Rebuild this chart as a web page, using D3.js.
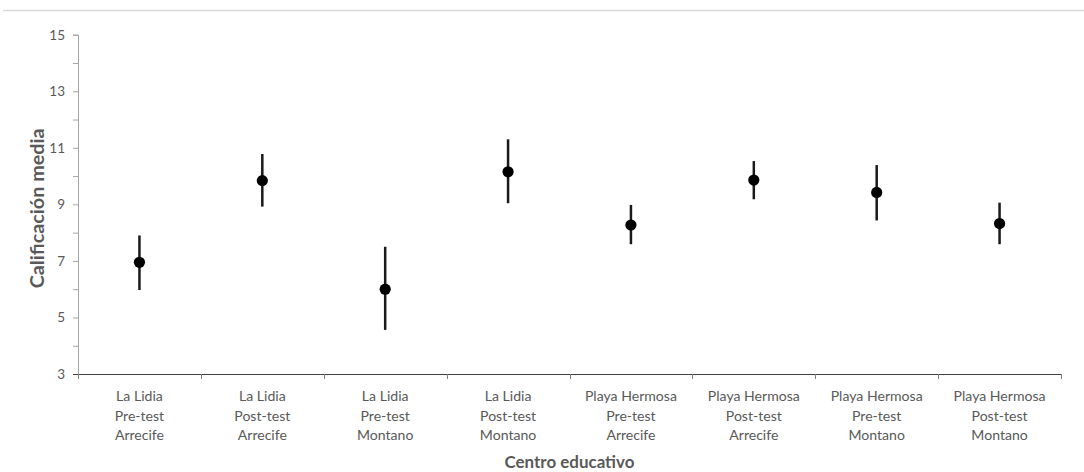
<!DOCTYPE html>
<html>
<head>
<meta charset="utf-8">
<script src="https://cdn.jsdelivr.net/npm/d3@7"></script>
<style>
  html, body { margin: 0; padding: 0; background: #fff; }
  svg { display: block; }
  text { font-family: Lato, "Open Sans", "DejaVu Sans", sans-serif; }
</style>
</head>
<body>
<svg id="chart" width="1084" height="472"></svg>
<script>
// Mean score per school / test / group, with error-bar limits
const schools = ["La Lidia", "La Lidia", "La Lidia", "La Lidia",
                 "Playa Hermosa", "Playa Hermosa", "Playa Hermosa", "Playa Hermosa"];
const phases  = ["Pre-test", "Post-test", "Pre-test", "Post-test",
                 "Pre-test", "Post-test", "Pre-test", "Post-test"];
const groups  = ["Arrecife", "Arrecife", "Montano", "Montano",
                 "Arrecife", "Arrecife", "Montano", "Montano"];
const means   = [6.95, 9.84, 6.00, 10.15, 8.27, 9.86, 9.42, 8.32];
const upper   = [7.90, 10.78, 7.50, 11.30, 8.98, 10.53, 10.39, 9.06];
const lower   = [5.97, 8.92, 4.56, 9.04, 7.59, 9.18, 8.43, 7.59];
const yTicks  = [3, 5, 7, 9, 11, 13, 15];
const yMinor  = [4, 6, 8, 10, 12, 14];

const yTitle = "Calificación media";
const xTitle = "Centro educativo";

const svg = d3.select("#chart");
const margin = { left: 78, right: 23, top: 34.7, bottom: 98 };
const W = 1084, H = 472;

// scale a text's font size so that it spans the given width
function fitWidth(sel, width) {
  const node = sel.node();
  const base = parseFloat(sel.style("font-size"));
  const len = node.getComputedTextLength();
  if (len > 0) sel.style("font-size", (base * width / len).toFixed(2) + "px");
}

const keys = d3.range(means.length);
const x = d3.scaleBand().domain(keys).range([margin.left, W - margin.right]);
const y = d3.scaleLinear().domain([3, 15]).range([H - margin.bottom, margin.top]);

// thin rule across the top of the figure
svg.append("line")
  .attr("x1", 3).attr("x2", W).attr("y1", 10.5).attr("y2", 10.5)
  .attr("stroke", "#d9d9d9").attr("stroke-width", 1.5);

// y axis
const yAxis = svg.append("g")
  .attr("transform", `translate(${margin.left},0)`)
  .call(d3.axisLeft(y).tickValues(yTicks).tickSize(5).tickPadding(8).tickFormat(d3.format("d")));
yAxis.select(".domain").attr("stroke", "#a6a6a6").attr("stroke-width", 1);
yAxis.selectAll(".tick line").attr("stroke", "#a6a6a6");
yAxis.selectAll(".tick text").attr("fill", "#595959").style("font-size", "13.5px");
yAxis.selectAll(".minor").data(yMinor).enter().append("line")
  .attr("class", "minor")
  .attr("x1", -5).attr("x2", 0)
  .attr("y1", d => y(d) + 0.5).attr("y2", d => y(d) + 0.5)
  .attr("stroke", "#a6a6a6");

// x axis with band boundaries as ticks
const xAxisY = y(3);
const xg = svg.append("g");
xg.append("line")
  .attr("x1", margin.left - 5).attr("x2", W - margin.right)
  .attr("y1", xAxisY + 0.5).attr("y2", xAxisY + 0.5)
  .attr("stroke", "#404040").attr("stroke-width", 1.2);
const bounds = keys.map(k => x(k)).concat([x(keys[keys.length - 1]) + x.bandwidth()]);
xg.selectAll(".bt").data(bounds).enter().append("line")
  .attr("class", "bt")
  .attr("x1", d => Math.round(d) + 0.5).attr("x2", d => Math.round(d) + 0.5)
  .attr("y1", xAxisY).attr("y2", xAxisY + 5)
  .attr("stroke", "#808080");

// three-line category labels, sized from the widest school name
const probe = svg.append("text").style("font-size", "14px").text(schools[4]);
fitWidth(probe, 92);
const catSize = probe.style("font-size");
probe.remove();

const lab = xg.selectAll(".cat").data(keys).enter().append("text")
  .attr("class", "cat")
  .attr("text-anchor", "middle")
  .attr("fill", "#595959")
  .style("font-size", catSize);
lab.append("tspan").attr("x", d => x(d) + x.bandwidth() / 2).attr("y", 401).text(d => schools[d]);
lab.append("tspan").attr("x", d => x(d) + x.bandwidth() / 2).attr("y", 420.5).text(d => phases[d]);
lab.append("tspan").attr("x", d => x(d) + x.bandwidth() / 2).attr("y", 440).text(d => groups[d]);

// axis titles
const xt = svg.append("text")
  .attr("x", (margin.left + W - margin.right) / 2).attr("y", 467.5)
  .attr("text-anchor", "middle").attr("fill", "#595959")
  .style("font-size", "15px").style("font-weight", "bold")
  .text(xTitle);
fitWidth(xt, 130);
const yt = svg.append("text")
  .attr("transform", `translate(44,${(y(3) + y(15)) / 2 + 4}) rotate(-90)`)
  .attr("text-anchor", "middle").attr("fill", "#595959")
  .style("font-size", "17px").style("font-weight", "bold")
  .text(yTitle);
fitWidth(yt, 160);

// error bars and means
const cx = d => x(d) + x.bandwidth() / 2;
svg.selectAll(".err").data(keys).enter().append("line")
  .attr("class", "err")
  .attr("x1", cx).attr("x2", cx)
  .attr("y1", d => y(upper[d])).attr("y2", d => y(lower[d]))
  .attr("stroke", "#1a1a1a").attr("stroke-width", 2.5);
svg.selectAll(".pt").data(keys).enter().append("circle")
  .attr("class", "pt")
  .attr("cx", cx).attr("cy", d => y(means[d]))
  .attr("r", 5.6).attr("fill", "#000");
</script>
</body>
</html>
